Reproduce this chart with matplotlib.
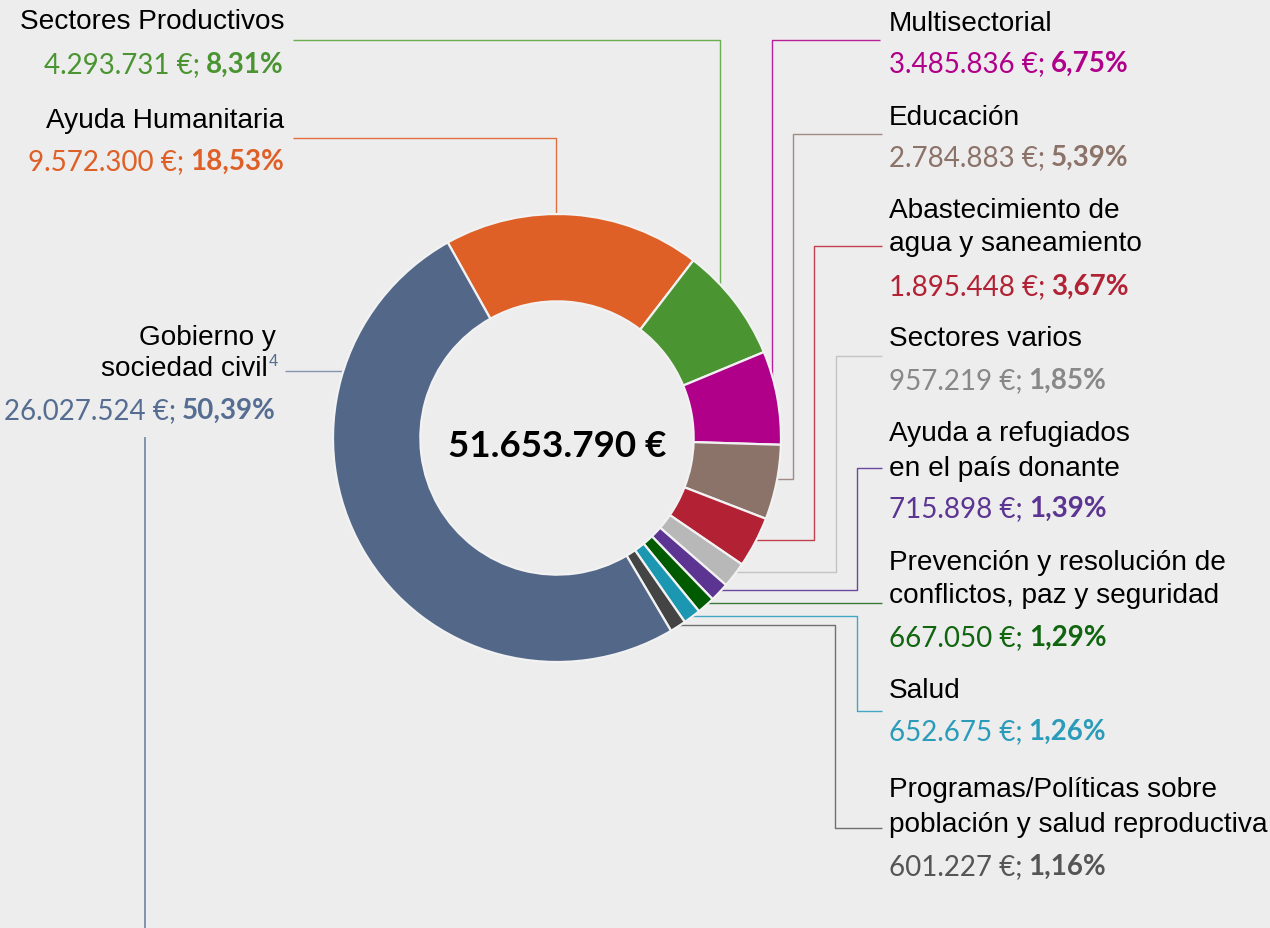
import numpy as np
import matplotlib
matplotlib.use('Agg')
import matplotlib.pyplot as plt

# datos (orden en sentido horario desde Ayuda Humanitaria)
categories = ["Ayuda Humanitaria", "Sectores Productivos", "Multisectorial", "Educación",
              "Abastecimiento de\nagua y saneamiento", "Sectores varios",
              "Ayuda a refugiados\nen el país donante",
              "Prevención y resolución de\nconflictos, paz y seguridad", "Salud",
              "Programas/Políticas sobre\npoblación y salud reproductiva",
              "Gobierno y\nsociedad civil"]
amounts = [9572300, 4293731, 3485836, 2784883, 1895448, 957219, 715898, 667050, 652675, 601227, 26027524]
wedge_colors = ["#DE6027", "#4A9532", "#B0008A", "#8C7369", "#B22234", "#B8B8B8",
                "#5B3591", "#005A00", "#1B97B2", "#444444", "#536889"]
text_colors = ["#DE6027", "#4A9532", "#B0008A", "#8C7369", "#B22234", "#888888",
               "#5B3591", "#10650F", "#2A9CBA", "#555555", "#566D92"]
line_colors = ["#E07040", "#6AAE50", "#B8209A", "#A08C84", "#C0404F", "#C4C4C4",
               "#6A48A0", "#3A7A3A", "#40A8C4", "#707070", "#8393B0"]

total = sum(amounts)
BG = "#EDEDED"
LABEL_FONT = "Liberation Sans"
VALUE_FONT = "Lato"
LABEL_SIZE = 20.2
VALUE_SIZE = 20


def fmt_eur(v):
    return f"{v:,}".replace(",", ".") + " €;"


def fmt_pct(v):
    return f"{100 * v / total:.2f}".replace(".", ",") + "%"


fig = plt.figure(figsize=(12.7, 9.29), dpi=100, facecolor=BG)
ax = fig.add_axes([0, 0, 1, 1])
ax.set_facecolor(BG)

cx, cy, R = 557, 439, 224
start = 119.2  # angulo visual del borde azul/naranja
ax.pie(amounts, colors=wedge_colors, startangle=-start, counterclock=True,
       center=(cx, cy), radius=R, frame=True,
       wedgeprops=dict(width=R * 0.39, edgecolor="#F2F2F2", linewidth=1.6, zorder=3))
ax.set_xlim(0, 1270)
ax.set_ylim(929, 0)
ax.axis("off")

ax.text(cx, 457, "51.653.790 €", ha="center", va="baseline", fontsize=26.5,
        fontweight="bold", family=VALUE_FONT, color="black")

r_line = R - 4


def circ_y(x, upper=True):
    d = np.sqrt(max(r_line ** 2 - (x - cx) ** 2, 0))
    return cy - d if upper else cy + d


def circ_x(y, right=True):
    d = np.sqrt(max(r_line ** 2 - (y - cy) ** 2, 0))
    return cx + d if right else cx - d


def leader(xs, ys, color):
    ax.plot(xs, ys, color=color, lw=1.0, zorder=1, solid_capstyle="butt")


# lineas guia
leader([293, 720, 720], [41, 41, circ_y(720)], line_colors[1])
leader([293, 556, 556], [139, 139, circ_y(556)], line_colors[0])
leader([285, circ_x(372, False)], [372, 372], line_colors[10])
ax.plot([145, 145], [439, 929], color=line_colors[10], lw=1.4, zorder=1)
leader([880, 772, 772], [41, 41, circ_y(772)], line_colors[2])
leader([882, 793, 793, circ_x(480)], [135, 135, 480, 480], line_colors[3])
leader([882, 814, 814, circ_x(541)], [247, 247, 541, 541], line_colors[4])
leader([882, 836, 836, circ_x(573)], [357, 357, 573, 573], line_colors[5])
leader([882, 857, 857, circ_x(591)], [469, 469, 591, 591], line_colors[6])
leader([882, circ_x(604)], [604, 604], line_colors[7])
leader([882, 857, 857, circ_x(617)], [712, 712, 617, 617], line_colors[8])
leader([882, 835, 835, circ_x(626)], [829, 829, 626, 626], line_colors[9])

renderer = fig.canvas.get_renderer()


def value_line(i, x, y, align):
    reg = fmt_eur(amounts[i])
    bold = fmt_pct(amounts[i])
    gap = 6
    if align == "left":
        t = ax.text(x, y, reg, ha="left", va="baseline", fontsize=VALUE_SIZE,
                    family=VALUE_FONT, color=text_colors[i])
        w = t.get_window_extent(renderer=renderer).width
        ax.text(x + w + gap, y, bold, ha="left", va="baseline", fontsize=VALUE_SIZE,
                family=VALUE_FONT, fontweight="bold", color=text_colors[i])
    else:
        t = ax.text(x, y, bold, ha="right", va="baseline", fontsize=VALUE_SIZE,
                    family=VALUE_FONT, fontweight="bold", color=text_colors[i])
        w = t.get_window_extent(renderer=renderer).width
        ax.text(x - w - gap, y, reg, ha="right", va="baseline", fontsize=VALUE_SIZE,
                family=VALUE_FONT, color=text_colors[i])


def label(i, x, baselines, value_y, align):
    for line, by in zip(categories[i].split("\n"), baselines):
        ax.text(x, by, line, ha=align, va="baseline", fontsize=LABEL_SIZE,
                family=LABEL_FONT, color="black")
    value_line(i, x, value_y, align)


# izquierda
label(1, 284, [29], 73, "right")
label(0, 284, [128], 170, "right")
ax.text(276, 345, "Gobierno y", ha="right", va="baseline", fontsize=LABEL_SIZE,
        family=LABEL_FONT, color="black")
ax.text(268, 376, "sociedad civil", ha="right", va="baseline", fontsize=LABEL_SIZE,
        family=LABEL_FONT, color="black")
ax.text(269, 366, "4", ha="left", va="baseline", fontsize=12,
        family=LABEL_FONT, color=text_colors[10])
value_line(10, 276, 419, "right")

# derecha
label(2, 889, [31], 72, "left")
label(3, 889, [125], 166, "left")
label(4, 889, [218, 251], 295, "left")
label(5, 889, [346], 389, "left")
label(6, 889, [441, 476], 517, "left")
label(7, 889, [570, 603], 646, "left")
label(8, 889, [698], 740, "left")
label(9, 889, [797, 832], 875, "left")

fig.savefig("out.png", dpi=100, facecolor=BG)
